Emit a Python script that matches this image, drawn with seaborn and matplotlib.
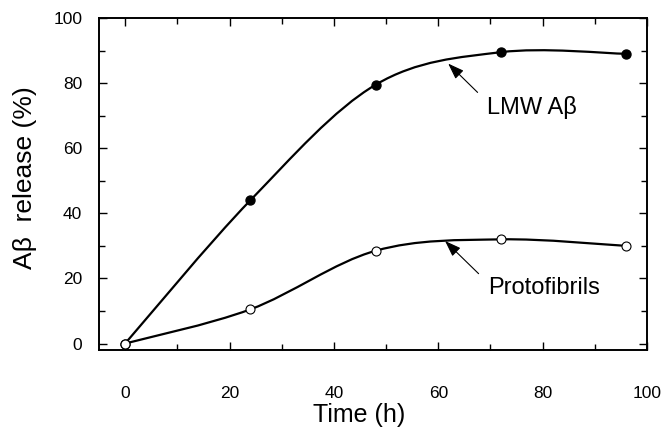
import numpy as np
import pandas as pd
import matplotlib
matplotlib.use("Agg")
import matplotlib.pyplot as plt
from matplotlib.path import Path
from matplotlib.patches import PathPatch
from matplotlib.ticker import MultipleLocator
import seaborn as sns

time_h = [0, 24, 48, 72, 96]
lmw_release = [0, 44, 79.5, 89.5, 89]
protofibril_release = [0, 10.5, 28.5, 32, 30]
x_ticks = [0, 20, 40, 60, 80, 100]
y_ticks = [0, 20, 40, 60, 80, 100]

sns.set_theme(style="ticks")
plt.rcParams['font.family'] = ['Liberation Sans', 'DejaVu Sans']
plt.rcParams['text.color'] = 'black'

fig = plt.figure(figsize=(6.65, 4.37), dpi=100)
ax = fig.add_axes([0.1489, 0.199, 0.973 - 0.1489, 0.9588 - 0.199])


def smooth_path(xs, ys):
    # Catmull-Rom through the data points rendered as cubic Bezier segments
    xs = np.asarray(xs, float)
    ys = np.asarray(ys, float)
    pts = np.column_stack([xs, ys])
    n = len(pts)
    verts = [pts[0]]
    codes = [Path.MOVETO]
    for i in range(n - 1):
        p0 = pts[i - 1] if i > 0 else pts[i]
        p1 = pts[i]
        p2 = pts[i + 1]
        p3 = pts[i + 2] if i + 2 < n else pts[i + 1]
        c1 = p1 + (p2 - p0) / 6.0
        c2 = p2 - (p3 - p1) / 6.0
        verts += [c1, c2, p2]
        codes += [Path.CURVE4] * 3
    return Path(verts, codes)


for ys in (lmw_release, protofibril_release):
    ax.add_patch(PathPatch(smooth_path(time_h, ys), fill=False, lw=1.6,
                           edgecolor="black", zorder=2))

df = pd.DataFrame({"t": time_h * 2,
                   "v": lmw_release + protofibril_release,
                   "s": ["LMW"] * 5 + ["Proto"] * 5})
sns.scatterplot(data=df[df.s == "LMW"], x="t", y="v", ax=ax, color="black",
                edgecolor="black", s=42, linewidth=1, zorder=3, legend=False)
sns.scatterplot(data=df[df.s == "Proto"], x="t", y="v", ax=ax, color="white",
                edgecolor="black", s=42, linewidth=0.8, zorder=3, legend=False)

ax.set_xlim(-5, 100)
ax.set_ylim(-2, 100)
ax.set_xticks(x_ticks)
ax.set_yticks(y_ticks)
ax.xaxis.set_minor_locator(MultipleLocator(10))
ax.yaxis.set_minor_locator(MultipleLocator(10))
ax.tick_params(which="both", direction="in", top=True, right=True,
               color="black", width=1)
ax.tick_params(which="major", length=6)
ax.tick_params(which="minor", length=4)
ax.tick_params(axis="x", which="major", pad=26, labelsize=12.5, labelcolor="black")
ax.tick_params(axis="y", which="major", pad=12, labelsize=12.5, labelcolor="black")
for sp in ax.spines.values():
    sp.set_linewidth(1.4)
    sp.set_color("black")

ax.set_xlabel("Time (h)", fontsize=18, labelpad=4, color="black")
ax.xaxis.set_label_coords(0.474, -0.16)
ax.set_ylabel("Aβ  release (%)", fontsize=19, labelpad=12, color="black")
ax.yaxis.set_label_coords(-0.113, 0.52)

arrow_kw = dict(arrowstyle="-|>,head_length=0.7,head_width=0.25", color="black",
                lw=0.8, shrinkA=6, shrinkB=0, mutation_scale=14,
                relpos=(0.0, 0.75))
ax.annotate("LMW Aβ", xy=(61.9, 86.0), xytext=(69.3, 72.6),
            fontsize=17, va="center", ha="left", color="black",
            arrowprops=arrow_kw)
ax.annotate("Protofibrils", xy=(61.3, 31.5), xytext=(69.5, 17),
            fontsize=17, va="center", ha="left", color="black",
            arrowprops=arrow_kw)

fig.savefig("out.png", dpi=100)
